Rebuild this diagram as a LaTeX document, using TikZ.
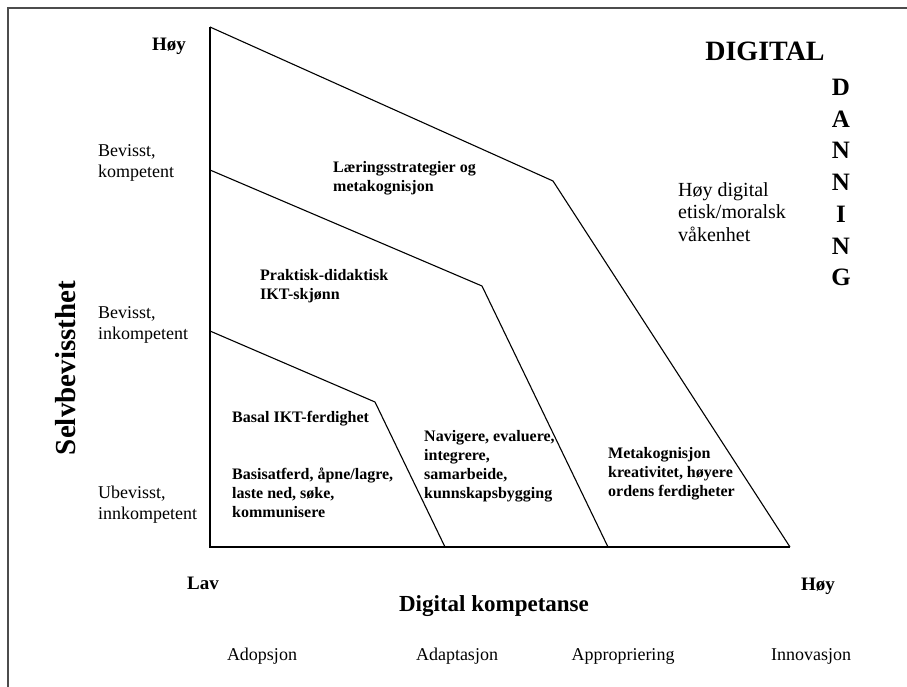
\documentclass[tikz,border=0pt]{standalone}
\usepackage{fontspec}
\setmainfont{Liberation Serif}
\begin{document}
\begin{tikzpicture}[x=1pt,y=-1pt,
  lbl/.style={inner sep=0pt, anchor=west, align=left, font=\fontsize{18}{21}\selectfont},
  blbl/.style={inner sep=0pt, anchor=west, align=left, font=\bfseries\fontsize{16}{19}\selectfont},
  bot/.style={inner sep=0pt, font=\fontsize{18}{21}\selectfont},
  endlbl/.style={inner sep=0pt, font=\bfseries\fontsize{19}{22}\selectfont},
  ax/.style={line width=1.1pt},
  frame/.style={line width=1.3pt, black!70}]
\useasboundingbox (0,0) rectangle (907,687);
\fill[white] (0,0) rectangle (907,687);
\draw[frame] (8,687) -- (8,8) -- (907,8);
% coordinates
\coordinate (T) at (210,27);
\coordinate (O) at (210,547);
\coordinate (E) at (790,547);
\coordinate (a1) at (553,181);
\coordinate (b0) at (210,170);
\coordinate (b1) at (482,286);
\coordinate (b2) at (608,547);
\coordinate (c0) at (210,331);
\coordinate (c1) at (375,402);
\coordinate (c2) at (445,547);
\draw[ax] (T) -- (O) -- (E);
\draw[ax] (T) -- (a1) -- (E);
\draw[ax] (b0) -- (b1) -- (b2);
\draw[ax] (c0) -- (c1) -- (c2);
% y-axis labels
\node[endlbl] (hoy1) at (169,46) {Høy};
\node[lbl] (bk) at (98,163) {Bevisst,\\kompetent};
\node[lbl] (bi) at (98,325) {Bevisst,\\inkompetent};
\node[lbl] (ui) at (98,505) {Ubevisst,\\innkompetent};
\node[inner sep=0pt, rotate=90, font=\bfseries\fontsize{29}{32}\selectfont] (selv) at (66,368) {Selvbevissthet};
% title
\node[inner sep=0pt, font=\bfseries\fontsize{28}{32}\selectfont] (dig) at (765,51) {DIGITAL};
\foreach \l [count=\i] in {D,A,N,N,I,N,G}
  \node[inner sep=0pt, font=\bfseries\fontsize{25}{30}\selectfont] (dan\i) at (841,{87+31.8*(\i-1)}) {\l};
% region labels
\node[lbl, font=\fontsize{20}{22.5}\selectfont] (hd) at (678,212) {Høy digital\\etisk/moralsk\\våkenhet};
\node[blbl] (ls) at (333,178) {Læringsstrategier og\\metakognisjon};
\node[blbl] (pd) at (260,286) {Praktisk-didaktisk\\IKT-skjønn};
\node[blbl] (bas) at (232,419) {Basal IKT-ferdighet};
\node[blbl] (bsa) at (232,493) {Basisatferd, åpne/lagre,\\laste ned, søke,\\kommunisere};
\node[blbl] (nav) at (424,466) {Navigere, evaluere,\\integrere,\\samarbeide,\\kunnskapsbygging};
\node[blbl] (mk) at (608,474) {Metakognisjon\\kreativitet, høyere\\ordens ferdigheter};
% x-axis labels
\node[endlbl] (lav) at (203,583) {Lav};
\node[endlbl] (hoy2) at (818,586) {Høy};
\node[inner sep=0pt, font=\bfseries\fontsize{23}{27}\selectfont] (dk) at (494,606) {Digital kompetanse};
\node[bot] (ado) at (262,656) {Adopsjon};
\node[bot] (ada) at (457,656) {Adaptasjon};
\node[bot] (app) at (623,656) {Appropriering};
\node[bot] (inn) at (811,656) {Innovasjon};
\end{tikzpicture}
\end{document}
